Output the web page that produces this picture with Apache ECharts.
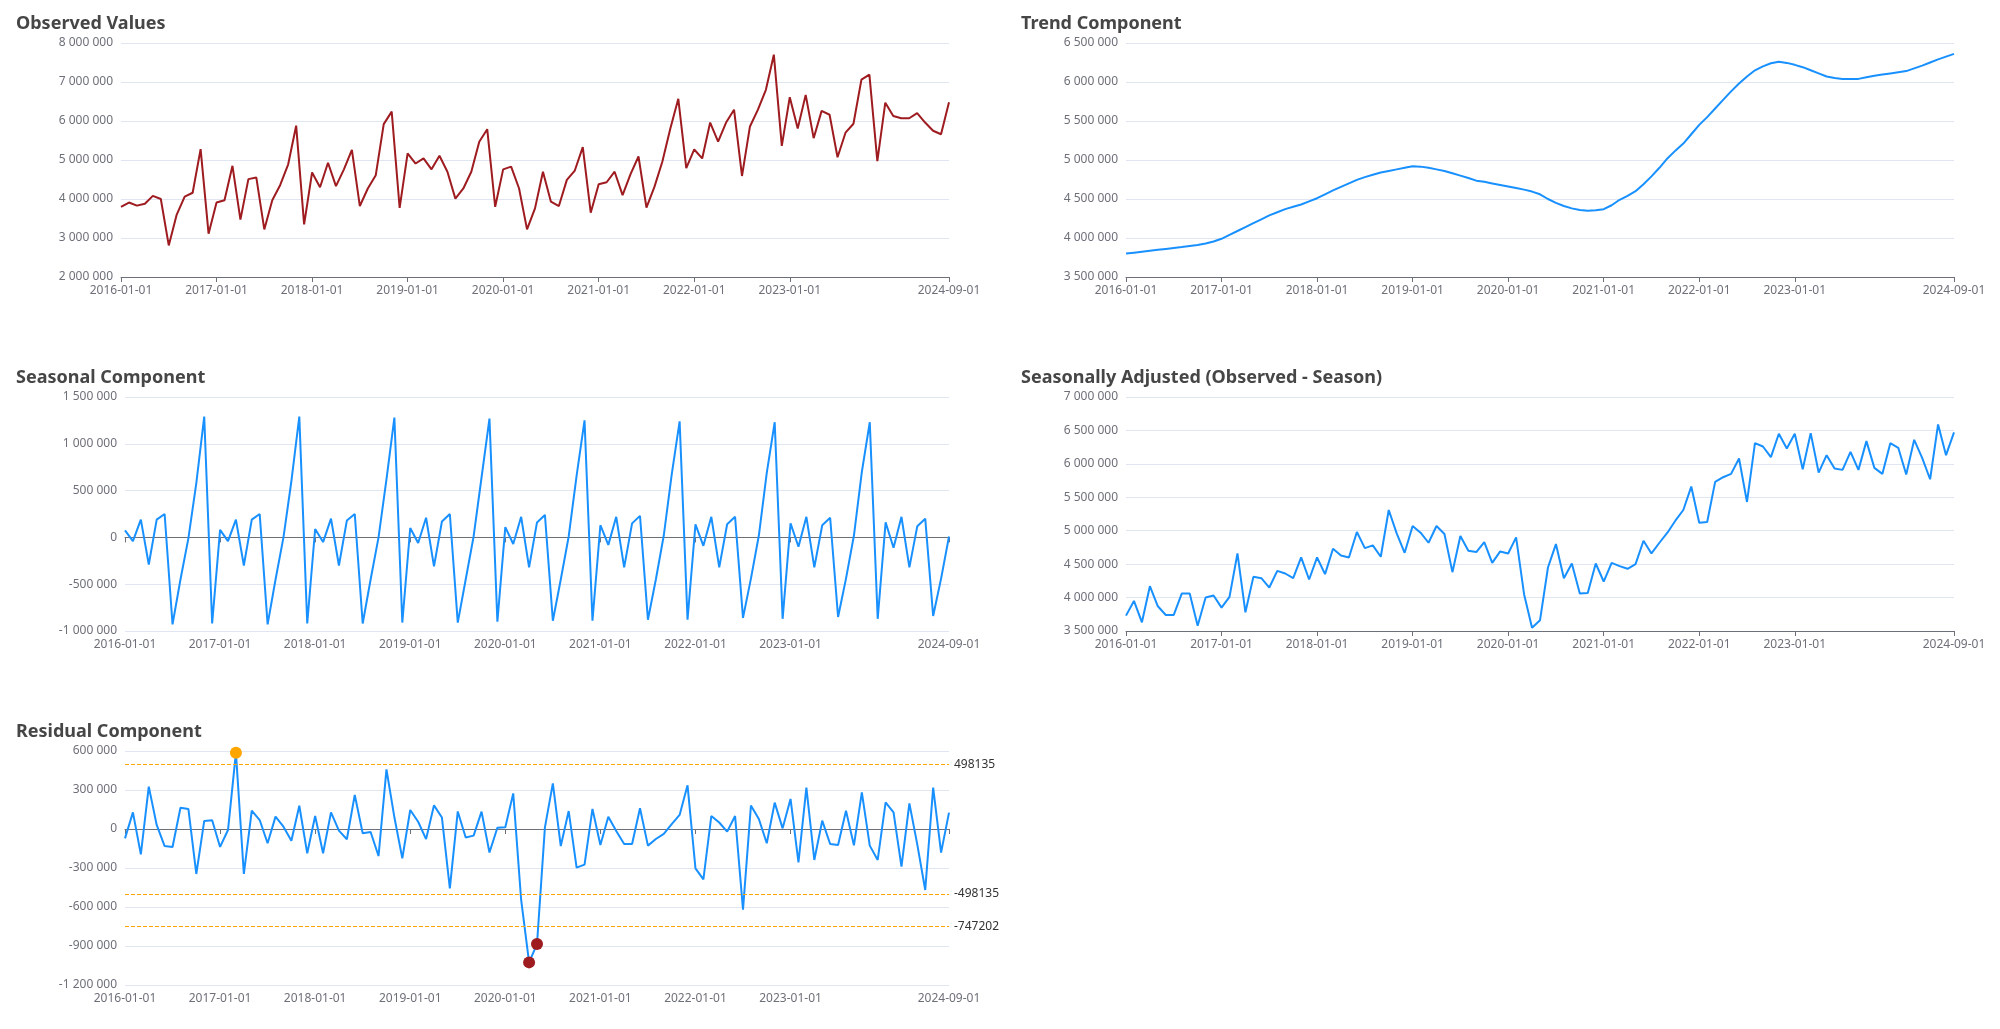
<!DOCTYPE html>
<html><head><meta charset="utf-8">
<script src="https://cdn.jsdelivr.net/npm/echarts@6/dist/echarts.min.js"></script>
<style>
html,body{margin:0;padding:0;overflow:hidden;background:#fff;width:2000px;height:1029px}
.c{position:absolute;height:320px}
</style></head><body>
<div id="obs" class="c" style="left:0;top:0;width:1000px"></div>
<div id="trend" class="c" style="left:1005px;top:0;width:995px"></div>
<div id="seas" class="c" style="left:0;top:354px;width:1000px"></div>
<div id="sa" class="c" style="left:1005px;top:354px;width:995px"></div>
<div id="resid" class="c" style="left:0;top:708px;width:1000px"></div>
<script>
// ---- categories (monthly, 2016-01 .. 2024-09) ----
const categories = [];
for (let y = 2016; y <= 2024; y++) {
  for (let m = 1; m <= 12; m++) {
    if (y === 2024 && m > 9) break;
    categories.push(y + '-' + String(m).padStart(2, '0') + '-01');
  }
}

const observed = [
  3800000, 3910000, 3830000, 3880000, 4080000, 4000000, 2810000, 3600000, 4060000, 4160000, 5280000, 3110000,
  3910000, 3970000, 4850000, 3470000, 4510000, 4550000, 3220000, 3970000, 4360000, 4890000, 5880000, 3350000,
  4680000, 4300000, 4930000, 4330000, 4760000, 5260000, 3820000, 4270000, 4610000, 5920000, 6240000, 3770000,
  5170000, 4910000, 5040000, 4760000, 5110000, 4700000, 4010000, 4270000, 4700000, 5470000, 5790000, 3800000,
  4760000, 4830000, 4270000, 3220000, 3760000, 4700000, 3930000, 3820000, 4490000, 4730000, 5330000, 3650000,
  4380000, 4430000, 4700000, 4100000, 4640000, 5090000, 3780000, 4310000, 4960000, 5810000, 6570000, 4790000,
  5270000, 5040000, 5960000, 5470000, 5960000, 6290000, 4590000, 5860000, 6290000, 6800000, 7700000, 5360000,
  6610000, 5810000, 6670000, 5560000, 6260000, 6160000, 5070000, 5700000, 5930000, 7060000, 7190000, 4970000,
  6470000, 6130000, 6070000, 6070000, 6200000, 5960000, 5750000, 5660000, 6480000
];

const trend = [
  3800000, 3812000, 3824000, 3836000, 3848000, 3860000, 3872000, 3884000, 3898000, 3910000, 3930000, 3955000,
  3990000, 4040000, 4090000, 4140000, 4190000, 4240000, 4290000, 4330000, 4370000, 4400000, 4430000, 4470000,
  4510000, 4560000, 4610000, 4655000, 4700000, 4745000, 4780000, 4810000, 4840000, 4860000, 4880000, 4900000,
  4920000, 4915000, 4900000, 4880000, 4860000, 4830000, 4800000, 4770000, 4735000, 4720000, 4700000, 4680000,
  4660000, 4640000, 4620000, 4595000, 4560000, 4500000, 4450000, 4410000, 4380000, 4360000, 4350000, 4355000,
  4370000, 4420000, 4490000, 4540000, 4600000, 4690000, 4790000, 4900000, 5020000, 5120000, 5210000, 5330000,
  5450000, 5550000, 5660000, 5770000, 5880000, 5980000, 6070000, 6150000, 6200000, 6240000, 6260000, 6245000,
  6220000, 6190000, 6150000, 6110000, 6070000, 6050000, 6040000, 6040000, 6040000, 6060000, 6080000, 6095000,
  6110000, 6125000, 6140000, 6175000, 6210000, 6250000, 6290000, 6325000, 6360000
];

const seasonal = [
  75000, -40000, 190000, -290000, 190000, 250000, -930000, -450000, -10000, 580000, 1290000, -920000,
  80000, -40000, 190000, -300000, 190000, 250000, -930000, -450000, 0, 600000, 1290000, -920000,
  90000, -50000, 200000, -300000, 180000, 250000, -920000, -450000, 0, 620000, 1280000, -910000,
  100000, -60000, 210000, -310000, 170000, 250000, -910000, -450000, 10000, 640000, 1270000, -900000,
  110000, -70000, 220000, -320000, 160000, 240000, -890000, -450000, 10000, 660000, 1250000, -890000,
  130000, -80000, 220000, -320000, 150000, 230000, -880000, -450000, 20000, 670000, 1240000, -880000,
  140000, -90000, 220000, -320000, 140000, 220000, -860000, -440000, 20000, 690000, 1230000, -870000,
  150000, -100000, 220000, -320000, 130000, 210000, -850000, -440000, 20000, 700000, 1230000, -870000,
  160000, -110000, 220000, -320000, 120000, 200000, -840000, -440000, 10000
];

const seasonallyAdjusted = [
  3730000, 3950000, 3630000, 4170000, 3870000, 3740000, 3740000, 4060000, 4060000, 3580000, 4000000, 4030000,
  3850000, 4010000, 4660000, 3780000, 4310000, 4290000, 4150000, 4400000, 4360000, 4290000, 4600000, 4270000,
  4600000, 4350000, 4730000, 4630000, 4600000, 4980000, 4740000, 4780000, 4610000, 5310000, 4960000, 4670000,
  5070000, 4970000, 4820000, 5070000, 4950000, 4380000, 4920000, 4700000, 4680000, 4830000, 4520000, 4690000,
  4660000, 4900000, 4050000, 3550000, 3660000, 4450000, 4800000, 4290000, 4510000, 4060000, 4070000, 4510000,
  4240000, 4520000, 4470000, 4430000, 4500000, 4850000, 4660000, 4820000, 4970000, 5150000, 5310000, 5660000,
  5120000, 5130000, 5730000, 5800000, 5850000, 6080000, 5430000, 6310000, 6260000, 6100000, 6450000, 6230000,
  6450000, 5920000, 6460000, 5870000, 6130000, 5930000, 5910000, 6180000, 5910000, 6340000, 5940000, 5850000,
  6310000, 6240000, 5840000, 6360000, 6090000, 5770000, 6590000, 6130000, 6470000
];

const residual = [
  -72000, 128000, -195000, 326000, 31000, -131000, -138000, 164000, 154000, -346000, 62000, 67000,
  -138000, -8000, 587000, -346000, 141000, 69000, -110000, 95000, 18000, -90000, 179000, -187000,
  100000, -187000, 128000, -13000, -79000, 262000, -33000, -23000, -208000, 459000, 90000, -226000,
  146000, 56000, -78000, 182000, 88000, -456000, 135000, -65000, -51000, 134000, -181000, 10000,
  13000, 274000, -546000, -1026000, -885000, 13000, 351000, -131000, 138000, -297000, -274000, 154000,
  -123000, 95000, -15000, -115000, -115000, 159000, -128000, -77000, -38000, 38000, 108000, 336000,
  -303000, -387000, 100000, 50000, -20000, 100000, -620000, 180000, 77000, -110000, 203000, 5000,
  231000, -256000, 318000, -238000, 64000, -115000, -123000, 141000, -126000, 282000, -128000, -238000,
  205000, 128000, -290000, 197000, -120000, -469000, 318000, -182000, 126000
];

const thresholds = [498135, -498135, -747202];   // +2σ, -2σ, -3σ
const upperLimit = 498135;
const lowerLimit = -747202;

// ---- styling ----
const FONT = 'Noto Sans';
const RED = '#9E1B20';
const BLUE = '#1890FF';
const ORANGE = '#FFA500';
const last = categories.length - 1;
const tickFn = (i) => (i % 12 === 0 && i <= 84) || i === last;
const fmt = (v) => String(v).replace(/\B(?=(\d{3})+(?!\d))/g, ' ');

function baseOption(title, left, width, yMin, yMax, yInt, twoAxes) {
  const labelStyle = { interval: tickFn, color: '#6E7079', fontSize: 12, fontFamily: FONT, margin: 8 };
  let xAxis;
  if (!twoAxes) {
    xAxis = {
      type: 'category', data: categories, boundaryGap: false,
      axisLine: { lineStyle: { color: '#6E7079' } },
      axisTick: { interval: tickFn, lineStyle: { color: '#6E7079' } },
      axisLabel: labelStyle
    };
  } else {
    xAxis = [{
      type: 'category', data: categories, boundaryGap: false, position: 'bottom',
      axisLine: { show: false, onZero: false },
      axisTick: { show: false },
      axisLabel: labelStyle
    }, {
      type: 'category', data: categories, boundaryGap: false, position: 'bottom',
      axisLine: { show: true, onZero: true, lineStyle: { color: '#6E7079' } },
      axisTick: { interval: tickFn, lineStyle: { color: '#6E7079' } },
      axisLabel: { show: false }
    }];
  }
  return {
    animation: false,
    textStyle: { fontFamily: FONT },
    title: { text: title, left: 11, top: 10,
      textStyle: { fontSize: 18, fontWeight: 'bold', color: '#464646', fontFamily: FONT } },
    grid: { left: left, width: width, top: 43, height: 234 },
    xAxis: xAxis,
    yAxis: {
      type: 'value', min: yMin, max: yMax, interval: yInt,
      axisLabel: { formatter: fmt, color: '#6E7079', fontSize: 12, fontFamily: FONT, margin: 8 },
      splitLine: { lineStyle: { color: '#E0E6F1' } },
      axisLine: { show: false }, axisTick: { show: false }
    }
  };
}

function lineSeries(data, color) {
  return { type: 'line', data: data, symbol: 'none', showSymbol: false,
    lineStyle: { color: color, width: 2 }, itemStyle: { color: color } };
}

// Observed
const o1 = baseOption('Observed Values', 121, 828, 2000000, 8000000, 1000000, false);
o1.series = [lineSeries(observed, RED)];
echarts.init(document.getElementById('obs')).setOption(o1);

// Trend
const o2 = baseOption('Trend Component', 121, 828, 3500000, 6500000, 500000, false);
o2.series = [lineSeries(trend, BLUE)];
echarts.init(document.getElementById('trend')).setOption(o2);

// Seasonal
const o3 = baseOption('Seasonal Component', 125, 824, -1000000, 1500000, 500000, true);
o3.series = [lineSeries(seasonal, BLUE)];
echarts.init(document.getElementById('seas')).setOption(o3);

// Seasonally adjusted
const o4 = baseOption('Seasonally Adjusted (Observed - Season)', 121, 828, 3500000, 7000000, 500000, false);
o4.series = [lineSeries(seasonallyAdjusted, BLUE)];
echarts.init(document.getElementById('sa')).setOption(o4);

// Residual
const o5 = baseOption('Residual Component', 125, 824, -1200000, 600000, 300000, true);
const marks = [];
residual.forEach((v, i) => {
  if (v > upperLimit) marks.push({ coord: [categories[i], v], itemStyle: { color: ORANGE } });
  else if (v < lowerLimit) marks.push({ coord: [categories[i], v], itemStyle: { color: RED } });
});
const rs = lineSeries(residual, BLUE);
rs.markLine = {
  symbol: 'none', silent: true,
  lineStyle: { color: ORANGE, type: 'dashed', width: 1 },
  label: { position: 'end', color: '#333', fontSize: 12, fontFamily: FONT, distance: 5 },
  data: thresholds.map(v => ({ yAxis: v }))
};
rs.markPoint = {
  symbol: 'circle', symbolSize: 12, silent: true,
  label: { show: false },
  data: marks
};
o5.series = [rs];
echarts.init(document.getElementById('resid')).setOption(o5);
</script>
</body></html>
